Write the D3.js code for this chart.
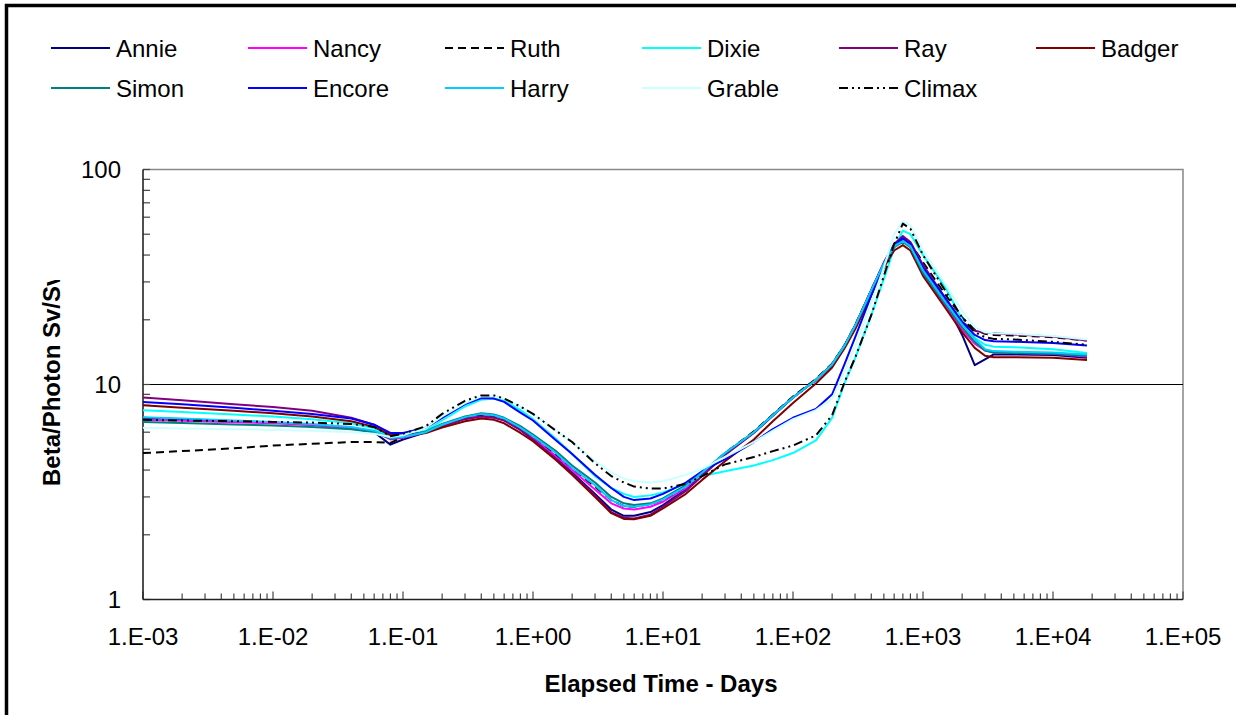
<!DOCTYPE html>
<html><head><meta charset="utf-8">
<script src="https://cdn.jsdelivr.net/npm/d3@7"></script>
<style>body{margin:0;background:#fff}svg{display:block}text{font-family:Arial,"Liberation Sans",sans-serif;fill:#000}</style>
</head><body><svg id="c" width="1236" height="715"></svg>
<script>
// elapsed time (days)
const days = [0.001,0.002,0.005,0.01,0.02,0.04,0.06,0.08,0.1,0.15,0.2,0.3,0.4,0.5,0.6,0.8,1,1.5,2,3,4,5,6,8,10,15,20,30,50,70,100,150,200,250,300,400,500,600,700,800,1000,1500,2000,2500,3000,3500,5000,10000,18250];

const annie  = [7.0,6.9,6.75,6.65,6.5,6.3,6.0,5.25,5.55,6.0, 6.5,7.0,7.2,7.1,6.85,6.15,5.55,4.55,3.9,3.1, 2.62,2.45,2.45,2.55,2.75, 3.25,3.8,4.75,6.0,7.2, 8.7,10.5,12.4,15.2,18.7, 27.5,36.5,44,47.5,44.5, 34,24,17,12.3,13.1, 13.8,13.8,13.7,13.3];
const nancy  = [6.85,6.78,6.68,6.6,6.48,6.3,6.05,5.55,5.65,6.0, 6.45,6.95,7.2,7.1,6.85,6.2,5.65,4.65,4.0,3.25, 2.8,2.65,2.62,2.7,2.85, 3.3,3.85,4.75,6.0,7.2, 8.7,10.5,12.4,15.2,18.7, 27.5,36.5,44,47,44, 33,23,18,15.5,14.4, 14.1,14.0,13.9,13.5];
const ruth   = [4.8,4.9,5.05,5.2,5.3,5.4,5.4,5.35,5.7,6.05, 6.5,7.05,7.25,7.15,6.9,6.3,5.75,4.75,4.1,3.35, 2.9,2.72,2.7,2.78,2.92, 3.35,3.9,4.8,6.05,7.25, 8.8,10.6,12.5,15.3,18.8, 27.5,36.5,44,47.5,45.5, 37,26,20.5,18,17.2, 17.0,16.9,16.6,16.0];
const dixie  = [7.6,7.45,7.25,7.1,6.9,6.6,6.25,5.7,5.75,6.1, 6.8,7.9,8.5,8.6,8.4,7.6,6.9,5.6,4.75,3.75, 3.3,3.1,3.0,3.05,3.15, 3.45,3.75,3.95,4.2,4.45, 4.8,5.5,7.0,10.2,13.2, 21,31,43,52,50, 40,28,20,16.5,15.3, 15.0,14.9,14.6,14.0];
const ray    = [8.7,8.45,8.1,7.85,7.55,7.0,6.5,5.9,5.8,6.0, 6.4,6.9,7.1,7.0,6.8,6.15,5.55,4.5,3.85,3.05, 2.55,2.4,2.38,2.48,2.7, 3.2,3.75,4.7,5.95,7.15, 8.7,10.5,12.4,15.2,18.8, 27.5,37,45,49,46, 36,25,19.5,17.8,17.4, 17.3,17.1,16.7,16.0];
const badger = [8.0,7.8,7.55,7.35,7.1,6.75,6.35,5.8,5.75,5.95, 6.3,6.75,6.95,6.85,6.6,5.95,5.45,4.45,3.8,3.0, 2.52,2.37,2.36,2.45,2.65, 3.1,3.6,4.4,5.55,6.75, 8.2,10.1,12.0,14.8,18.0, 26,35,42,44.5,42, 32,22.5,17.5,14.8,13.6, 13.4,13.4,13.3,13.0];
const simon  = [6.7,6.62,6.52,6.45,6.35,6.2,6.0,5.6,5.7,6.05, 6.55,7.1,7.35,7.25,7.0,6.4,5.85,4.9,4.2,3.5, 3.0,2.8,2.75,2.8,2.95, 3.4,3.9,4.8,6.0,7.2, 8.7,10.5,12.4,15.2,18.7, 27,36,43.5,46,43.5, 33,23.5,18.5,15.8,14.4, 14.1,14.0,13.9,13.6];
const encore = [8.3,8.1,7.8,7.55,7.3,6.95,6.5,5.95,5.95,6.3, 7.0,8.1,8.65,8.6,8.3,7.4,6.8,5.5,4.75,3.8, 3.3,3.0,2.9,2.95,3.1, 3.5,3.95,4.5,5.4,6.2, 7.0,7.7,9.0,12.5,16.5, 26,36,44.5,48,45, 35,25,19.5,17,16.1, 15.9,15.8,15.6,15.2];
const harry  = [7.05,6.95,6.8,6.7,6.55,6.35,6.1,5.65,5.7,6.0, 6.5,7.05,7.3,7.2,6.95,6.3,5.75,4.8,4.1,3.4, 2.9,2.72,2.7,2.77,2.92, 3.35,3.9,4.8,6.0,7.2, 8.7,10.5,12.4,15.2,18.7, 27.5,36.5,44,46.5,44, 34,24,19,16.3,14.6, 14.3,14.2,14.1,13.8];
const grable = [6.3,6.25,6.2,6.15,6.1,6.0,5.9,5.7,5.8,6.3, 7.1,8.2,8.8,8.85,8.6,7.9,7.3,6.1,5.4,4.4, 3.9,3.65,3.55,3.5,3.55, 3.8,4.05,4.6,5.4,6.1, 6.9,7.6,8.6,11.5,15, 24,35,50,57.5,55, 42,29,22,18.5,17.5, 17.3,17.2,16.8,16.2];
const climax = [6.85,6.8,6.75,6.7,6.65,6.55,6.35,5.75,5.9,6.4, 7.3,8.4,8.9,8.9,8.6,7.9,7.3,6.1,5.4,4.3, 3.75,3.5,3.35,3.28,3.28, 3.45,3.75,4.25,4.6,4.9, 5.2,5.8,7.2,10.3,13.3, 21,32,45,56,53, 40,27,20.5,17.5,16.6, 16.3,16.2,15.8,15.3];

const seriesNames = ["Annie","Nancy","Ruth","Dixie","Ray","Badger","Simon","Encore","Harry","Grable","Climax"];
const seriesValues = [annie,nancy,ruth,dixie,ray,badger,simon,encore,harry,grable,climax];
const seriesColors = ["#000080","#FF00FF","#000000","#00FFFF","#800080","#800000","#008080","#0000FF","#00CCFF","#CCFFFF","#000000"];
const seriesDash = [null,null,"8,5",null,null,null,null,null,null,null,"9,4,2,4,2,4"];

const xTickLabels = ["1.E-03","1.E-02","1.E-01","1.E+00","1.E+01","1.E+02","1.E+03","1.E+04","1.E+05"];
const yTickLabels = ["1","10","100"];

const svg = d3.select("#c");
const X0 = 143, X1 = 1183, Y0 = 599.5, Y1 = 169.5;
const x = d3.scaleLog().domain([1e-3,1e5]).range([X0,X1]);
const y = d3.scaleLog().domain([1,100]).range([Y0,Y1]);

// outer frame
svg.append("rect").attr("x",6.5).attr("y",5.5).attr("width",1300).attr("height",800)
  .attr("fill","none").attr("stroke","#000").attr("stroke-width",3.5);

// plot border (top/right gray)
svg.append("path").attr("d",`M${X0},${Y1}H${X1}V${Y0}`).attr("fill","none").attr("stroke","#888").attr("stroke-width",1.5);

// gridline at 10
svg.append("line").attr("x1",X0).attr("x2",X1).attr("y1",y(10)).attr("y2",y(10)).attr("stroke","#000").attr("stroke-width",1.2);

// y minor/major ticks
const yTicks = [];
for (let d=1; d<100; d*=10) for (let k=1;k<=9;k++) yTicks.push(d*k);
yTicks.push(100);
svg.append("g").selectAll("line").data(yTicks).join("line")
  .attr("x1",X0).attr("x2",X0+7).attr("y1",d=>y(d)).attr("y2",d=>y(d))
  .attr("stroke","#444").attr("stroke-width",1.2);

// x ticks
const xTicks = [];
for (let e=-3;e<5;e++) for (let k=1;k<=9;k++) xTicks.push({v:k*Math.pow(10,e),maj:k===1});
xTicks.push({v:1e5,maj:true});
svg.append("g").selectAll("line").data(xTicks).join("line")
  .attr("x1",d=>x(d.v)).attr("x2",d=>x(d.v)).attr("y1",Y0).attr("y2",d=>Y0-(d.maj?8:6))
  .attr("stroke","#444").attr("stroke-width",1.2);

// axes lines
svg.append("line").attr("x1",X0).attr("x2",X0).attr("y1",Y1).attr("y2",Y0).attr("stroke","#222").attr("stroke-width",1.6);
svg.append("line").attr("x1",X0).attr("x2",X1).attr("y1",Y0).attr("y2",Y0).attr("stroke","#222").attr("stroke-width",1.6);

// clip
svg.append("clipPath").attr("id","pc").append("rect").attr("x",X0).attr("y",Y1).attr("width",X1-X0).attr("height",Y0-Y1);

const line = d3.line().x(d=>x(d[0])).y(d=>y(d[1]));
const g = svg.append("g").attr("clip-path","url(#pc)");
seriesNames.forEach((n,i)=>{
  g.append("path").datum(days.map((t,j)=>[t,seriesValues[i][j]]))
    .attr("d",line).attr("fill","none").attr("stroke",seriesColors[i])
    .attr("stroke-width",2).attr("stroke-dasharray",seriesDash[i]).attr("stroke-linejoin","round");
});

// tick labels
svg.append("g").selectAll("text").data(xTickLabels).join("text")
  .attr("x",(d,i)=>x(Math.pow(10,i-3))).attr("y",645).attr("text-anchor","middle")
  .attr("font-size",24).text(d=>d);
svg.append("g").selectAll("text").data(yTickLabels).join("text")
  .attr("x",121).attr("y",(d,i)=>y(Math.pow(10,i))+8.5).attr("text-anchor","end")
  .attr("font-size",24).text(d=>d);

// axis titles
svg.append("text").attr("x",661).attr("y",692).attr("text-anchor","middle")
  .attr("font-size",24).attr("font-weight","bold").text("Elapsed Time - Days");
svg.append("clipPath").attr("id","tc").append("rect").attr("x",0).attr("y",280).attr("width",140).attr("height",400);
svg.append("g").attr("clip-path","url(#tc)").append("text")
  .attr("transform","translate(60,486) rotate(-90)").attr("text-anchor","start")
  .attr("font-size",24).attr("font-weight","bold").text("Beta/Photon Sv/Sv");

// legend
const lg = svg.append("g");
seriesNames.forEach((n,i)=>{
  const col = i<6 ? i : i-6, row = i<6 ? 0 : 1;
  const lx = 51 + col*197, ly = 48 + row*40;
  lg.append("line").attr("x1",lx).attr("x2",lx+59).attr("y1",ly).attr("y2",ly)
    .attr("stroke",seriesColors[i]).attr("stroke-width",2).attr("stroke-dasharray",seriesDash[i]);
  lg.append("text").attr("x",lx+65).attr("y",ly+8.5).attr("font-size",24).text(n);
});
</script></body></html>
